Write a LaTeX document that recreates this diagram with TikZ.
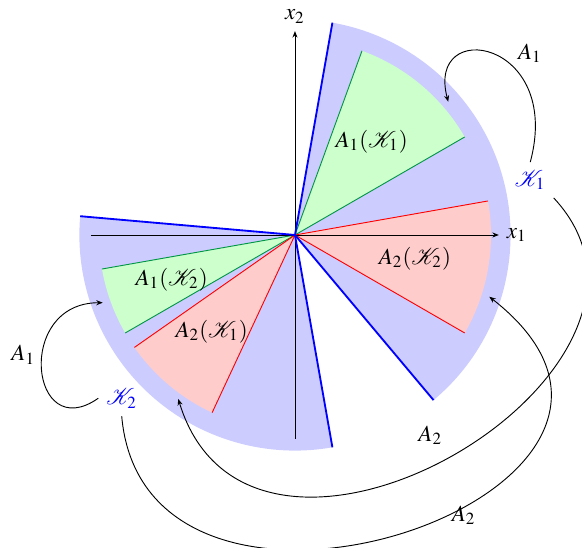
\documentclass[tikz,border=0pt]{standalone}
\usepackage{amsmath,amssymb}
\usepackage{mathptmx}
\usepackage{mathrsfs}
\usepackage{xcolor}
\usepackage{tikz}
\usetikzlibrary{arrows.meta}
\definecolor{conefill}{RGB}{204,204,255}
\definecolor{onefill}{RGB}{204,255,204}
\definecolor{twofill}{RGB}{255,204,204}
\definecolor{oneline}{RGB}{0,150,70}
\colorlet{coneline}{blue}
\colorlet{twoline}{red}

\begin{document}
\begin{tikzpicture}[x=1.5cm,y=1.5cm,>={Stealth[length=2.8pt,width=2.2pt]},
  coneedge/.style={coneline,thick},
  oneedge/.style={oneline},
  twoedge/.style={twoline},
  maparrow/.style={->,black}]
  \useasboundingbox (-3.01,-3.184) rectangle (2.929,2.398);
  % the two cones
  \fill[conefill] (0,0)--(-50:2.2) arc[start angle=-50,end angle=80,radius=2.2]--cycle;
  \fill[conefill] (0,0)--(175:2.2) arc[start angle=175,end angle=280,radius=2.2]--cycle;
  % their images
  \fill[onefill] (0,0)--(30:2) arc[start angle=30,end angle=70,radius=2]--cycle;
  \fill[onefill] (0,0)--(190:2) arc[start angle=190,end angle=210,radius=2]--cycle;
  \fill[twofill] (0,0)--(-30:2) arc[start angle=-30,end angle=10,radius=2]--cycle;
  \fill[twofill] (0,0)--(215:2) arc[start angle=215,end angle=245,radius=2]--cycle;
  \draw[oneedge] (30:2)--(0,0)--(70:2);
  \draw[oneedge] (190:2)--(0,0)--(210:2);
  \draw[twoedge] (-30:2)--(0,0)--(10:2);
  \draw[twoedge] (215:2)--(0,0)--(245:2);
  % axes
  \draw[->] (-2.08,0)--(2.08,0) node[right] (xone) {$x_1$};
  \draw[->] (0,-2.08)--(0,2.08) node[above] (xtwo) {$x_2$};
  \draw[coneedge] (-50:2.2)--(0,0)--(80:2.2);
  \draw[coneedge] (175:2.2)--(0,0)--(280:2.2);
  % labels
  \node (AoneKone) at (0.783,0.952) {$A_1(\mathscr{K}_1)$};
  \node (AtwoKtwo) at (1.224,-0.238) {$A_2(\mathscr{K}_2)$};
  \node (AoneKtwo) at (-1.258,-0.452) {$A_1(\mathscr{K}_2)$};
  \node (AtwoKone) at (-0.85,-0.987) {$A_2(\mathscr{K}_1)$};
  \node[blue] (Kone) at (2.401,0.561) {$\mathscr{K}_1$};
  \node[blue] (Ktwo) at (-1.768,-1.666) {$\mathscr{K}_2$};
  % where the maps land
  \coordinate (tipOneOne) at (1.564,1.36);
  \coordinate (tipOneTwo) at (-1.962,-0.691);
  \coordinate (tipTwoOne) at (-1.191,-1.673);
  \coordinate (tipTwoTwo) at (1.983,-0.63);
  \draw[maparrow] (Kone.north) .. controls +(75:1.3) and +(105:0.9) .. (tipOneOne);
  \draw[maparrow] (Ktwo.west) .. controls +(215:0.85) and +(180:0.9) .. (tipOneTwo);
  \draw[maparrow] (Kone.south east) .. controls +(-47:2.4) and +(-73:2.6) .. (tipTwoOne);
  \draw[maparrow] (Ktwo.south) .. controls +(-85:2.8) and +(-38:3.2) .. (tipTwoTwo);
  \node (mapAoneR) at (2.398,1.854) {$A_1$};
  \node (mapAoneL) at (-2.772,-1.224) {$A_1$};
  \node (mapAtwoU) at (1.381,-2.044) {$A_2$};
  \node (mapAtwoD) at (1.721,-2.86) {$A_2$};
\end{tikzpicture}
\end{document}
